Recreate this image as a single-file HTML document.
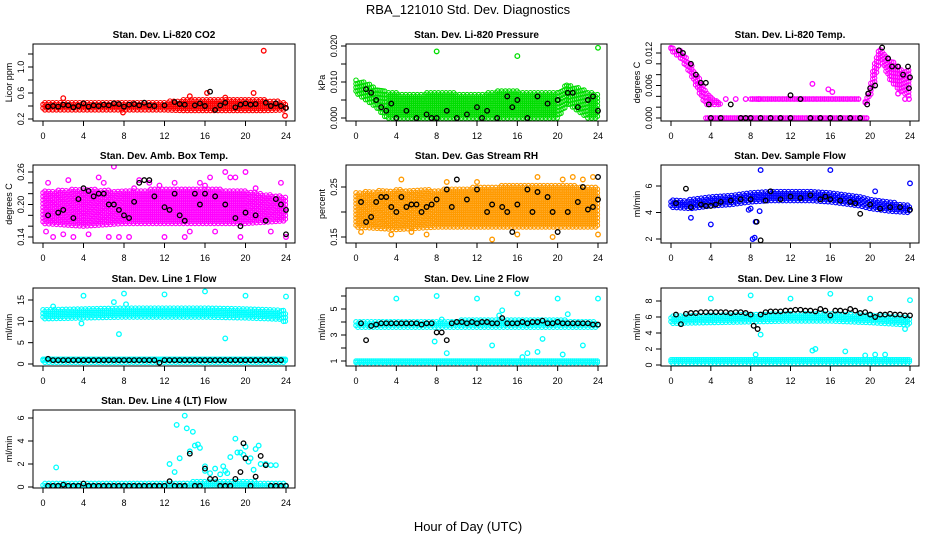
<!DOCTYPE html>
<html><head><meta charset="utf-8"><style>
html,body{margin:0;padding:0;background:#fff}
svg{display:block}
text{font-family:"Liberation Sans",sans-serif}
</style></head><body>
<svg id="chart" width="936" height="540" xmlns="http://www.w3.org/2000/svg">
<text x="468" y="14" text-anchor="middle" font-size="13">RBA_121010  Std. Dev. Diagnostics</text>
<text x="468" y="531" text-anchor="middle" font-size="13">Hour of Day (UTC)</text>
</svg>
<script>
const xTicks=[0,4,8,12,16,20,24];
// Panel 1 CO2
const co2BandHours=[0,4,8,12,14,16,18,20,22,24];
const co2BandLo=[0.34,0.34,0.34,0.34,0.33,0.33,0.33,0.33,0.33,0.34];
const co2BandHi=[0.47,0.47,0.47,0.47,0.50,0.52,0.50,0.52,0.50,0.46];
const co2OutHours=[21.8,23.9,7.9,16.2,20.8,14.5,2,18];
const co2OutVals=[1.25,0.25,0.30,0.60,0.60,0.55,0.52,0.53];
const co2BlackHours=[0.5,1,1.5,2,2.5,3,3.5,4,4.5,5,5.5,6,6.5,7,7.5,8,8.5,9,9.5,10,10.5,11,12,13,13.5,14,15,15.5,16,16.5,17,17.5,18,19,19.5,20,20.5,21,22,22.5,23,23.5,24];
const co2BlackVals=[0.39,0.40,0.39,0.42,0.41,0.38,0.40,0.44,0.39,0.41,0.40,0.42,0.41,0.44,0.43,0.39,0.42,0.43,0.41,0.45,0.41,0.40,0.41,0.46,0.43,0.42,0.41,0.44,0.40,0.62,0.34,0.41,0.45,0.38,0.42,0.44,0.42,0.43,0.45,0.40,0.44,0.40,0.37];
// Panel 2 Pressure
const prBandHours=[0,1,2,3,4,6,8,10,12,14,16,18,20,21,22,23,24];
const prBandLo=[0.007,0.005,0.003,0.000,0.000,0.000,0.000,0.000,0.000,0.000,0.000,0.000,0.000,0.004,0.002,0.000,0.000];
const prBandHi=[0.0105,0.0100,0.0085,0.0075,0.0070,0.0065,0.0075,0.0070,0.0065,0.0075,0.0075,0.0070,0.0075,0.0095,0.0085,0.0075,0.0065];
const prOutHours=[8,16,24];
const prOutVals=[0.0185,0.0172,0.0195];
const prBlackHours=[1,1.5,2,2.5,3,3.5,4,5,6,7,7.5,8,9,10,11,12,12.5,13,14,15,15.5,16,17,18,19,20,21,21.5,22,23,23.5,24];
const prBlackVals=[0.008,0.007,0.005,0.003,0.002,0.004,0.000,0.002,0.000,0.001,0.000,0.000,0.002,0.000,0.001,0.003,0.000,0.002,0.000,0.006,0.003,0.005,0.000,0.006,0.004,0.005,0.007,0.007,0.003,0.005,0.006,0.002];
// Panel 3 Li-820 Temp
const tpBandHours=[0,1,2,3,3.5,4,5];
const tpBandLo=[0.0125,0.0110,0.0080,0.0040,0.0025,0.0025,0.0025];
const tpBandHi=[0.0130,0.0125,0.0100,0.0070,0.0050,0.0040,0.0025];
const tpBand2Hours=[19.5,20,20.5,21,22,23,24];
const tpBand2Lo=[0.0025,0.004,0.007,0.011,0.007,0.005,0.004];
const tpBand2Hi=[0.0030,0.006,0.011,0.013,0.011,0.009,0.009];
const tpLineHours=[8,19];
const tpLineVals=[0.0035,0.0035];
const tpZeroHours=[3.5,19.8];
const tpZeroVals=[0,0];
const tpOutHours=[5.5,6.5,7.5,8.8,14.2,15.8,16.2,23.5,23.9,22.8];
const tpOutVals=[0.0035,0.0035,0.0035,0.0035,0.0063,0.0053,0.0048,0.0035,0.0035,0.0045];
const tpBlackHours=[0.8,1.2,2,2.5,3,3.5,3.8,4,5,6,7,7.5,8,9,10,11,12,12,13,14,15,16,17,18,19,19.7,19.8,20,20.5,21.2,21.8,22.2,22.8,23.3,23.8,23.9,24];
const tpBlackVals=[0.0125,0.012,0.010,0.008,0.0065,0.0065,0.0025,0,0,0.0025,0,0,0,0,0,0,0.0042,0,0.0035,0,0,0,0,0,0,0.0025,0.0045,0.0055,0.006,0.013,0.011,0.0095,0.0095,0.008,0.0095,0.0055,0.0075];
// Panel 4 Amb Box Temp
const abBandHours=[0,4,8,12,16,20,24];
const abBandLo=[0.165,0.16,0.165,0.165,0.165,0.165,0.17];
const abBandHi=[0.225,0.23,0.225,0.23,0.23,0.225,0.215];
const abOutHours=[0.3,0.5,1,2.5,3,4.5,5.5,6,7,7.5,8.5,9,10.5,11.5,13,14,15.5,16.5,17,18,18.5,19,21,22.5,23.5,24,6.5,9.5,12,16,20,2,14.5,19.5];
const abOutVals=[0.15,0.24,0.14,0.245,0.14,0.145,0.25,0.24,0.27,0.14,0.14,0.23,0.24,0.235,0.24,0.14,0.24,0.25,0.15,0.26,0.25,0.25,0.23,0.15,0.24,0.14,0.14,0.245,0.14,0.235,0.26,0.145,0.15,0.14];
const abBlackHours=[0.5,1.5,2,3,3.5,4,4.5,5,5.5,6,6.5,7,7.5,8,8.5,9,9.5,10,10.5,11,12,12.5,13,13.5,14,15,15.5,16,17,18,19,19.5,20,21,22,23,23.5,24,24];
const abBlackVals=[0.18,0.185,0.19,0.175,0.21,0.23,0.225,0.215,0.22,0.22,0.2,0.2,0.19,0.18,0.175,0.205,0.24,0.245,0.245,0.215,0.195,0.19,0.22,0.18,0.17,0.22,0.2,0.22,0.215,0.2,0.175,0.16,0.185,0.18,0.17,0.21,0.2,0.19,0.145];
// Panel 5 Gas Stream RH
const rhBandHours=[0,4,8,12,16,20,24];
const rhBandLo=[0.17,0.165,0.17,0.17,0.17,0.17,0.17];
const rhBandHi=[0.24,0.245,0.245,0.25,0.255,0.255,0.25];
const rhOutHours=[0.5,3.5,5.5,7,13.5,16,18,19.5,20.5,21.5,22.5,23.5,24,4.5,9,12];
const rhOutVals=[0.16,0.155,0.16,0.155,0.145,0.155,0.27,0.15,0.265,0.27,0.265,0.27,0.155,0.265,0.26,0.26];
const rhBlackHours=[0.5,1,1.5,2,2.5,3,3.5,4,4.5,5,5.5,6,6.5,7,7.5,8,9,9.5,10,11,12,13,13.5,14.5,15,15.5,16,17,17.5,18,19,19.5,20,21,22,22.5,23,23.5,24,24];
const rhBlackVals=[0.22,0.18,0.19,0.22,0.23,0.23,0.21,0.2,0.23,0.21,0.215,0.215,0.2,0.21,0.215,0.225,0.245,0.21,0.265,0.225,0.245,0.2,0.215,0.21,0.2,0.16,0.215,0.245,0.2,0.24,0.23,0.2,0.16,0.2,0.22,0.25,0.205,0.21,0.225,0.27];
// Panel 6 Sample Flow
const sfBandHours=[0,2,4,6,8,10,12,14,16,18,19,20,22,24];
const sfBandLo=[4.4,4.3,4.5,4.6,4.8,4.9,4.9,4.9,4.8,4.6,4.5,4.3,4.1,4.0];
const sfBandHi=[5.0,5.0,5.2,5.4,5.5,5.6,5.6,5.6,5.6,5.4,5.3,5.0,4.8,4.6];
const sfOutHours=[9,16,24,8.2,8.4,8.5,2,4,8,7.8,20.5,8.9];
const sfOutVals=[7.2,7.2,6.2,2.0,2.1,3.3,3.6,3.1,4.3,4.2,5.6,4.1];
const sfBlackHours=[0.5,1.5,2,3,3.5,4,4.5,5,6,7,8,8.6,9,9.5,10,11,12,13,14,15,15.5,16,17,18,18.5,19,20,21,22,23,24];
const sfBlackVals=[4.7,5.8,4.4,4.6,4.5,4.5,4.6,4.8,4.9,5.0,5.0,3.3,1.9,4.9,5.6,5.0,5.2,5.1,5.3,5.0,5.2,5.0,4.9,4.8,4.7,3.9,4.6,4.3,4.4,4.4,4.2];
// Row 3 Line 1 flow
const l1BandHours=[0,4,8,12,16,20,23.5,24];
const l1BandLo=[10.6,10.8,11.0,11.0,11.0,10.8,10.5,9.5];
const l1BandHi=[12.8,13.0,13.3,13.4,13.5,13.0,12.8,12.5];
const l1LowHours=[0,24];
const l1LowLo=[0.4,0.4];
const l1LowHi=[1.1,1.1];
const l1OutHours=[4,8,12,16,20,24,7.5,18,7,1,3.8,8.2];
const l1OutVals=[16,16.5,16.3,17,16,15.8,7,6,14.5,13.5,9.5,14];
const l1BlackHours=[0.5,1,1.5,2,2.5,3,3.5,4,4.5,5,5.5,6,6.5,7,7.5,8,8.5,9,9.5,10,10.5,11,11.5,12,12.5,13,13.5,14,14.5,15,15.5,16,16.5,17,17.5,18,18.5,19,19.5,20,20.5,21,21.5,22,22.5,23,23.5];
const l1BlackVals=[1.2,0.9,0.9,0.9,0.9,0.9,0.9,0.9,0.9,0.9,0.9,0.9,0.9,0.9,0.9,0.9,0.9,0.9,0.9,0.9,0.9,0.9,0.3,0.9,0.9,0.9,0.9,0.9,0.9,0.9,0.9,0.9,0.9,0.9,0.9,0.9,0.9,0.9,0.9,0.9,0.9,0.9,0.9,0.9,0.9,0.9,0.9];
// Line 2 flow
const l2BandHours=[0,4,8,12,16,20,24];
const l2BandLo=[3.6,3.6,3.6,3.6,3.6,3.6,3.6];
const l2BandHi=[4.1,4.1,4.1,4.2,4.2,4.2,4.0];
const l2LowHours=[0,24];
const l2LowLo=[0.75,0.75];
const l2LowHi=[1.0,1.0];
const l2OutHours=[4,8,12,16,20,24,14.5,13.5,9,17,18,18.5,22.5,7.8,8.5,20.5,21,14.2,16.5];
const l2OutVals=[5.8,6.0,5.8,6.2,5.8,5.8,4.9,2.2,1.6,1.6,1.7,2.7,2.2,2.5,4.2,1.5,4.6,4.5,1.3];
const l2BlackHours=[0.5,1,1.5,2,2.5,3,3.5,4,4.5,5,5.5,6,6.5,7,7.5,8,8.5,9,9.5,10,10.5,11,11.5,12,12.5,13,13.5,14,14.5,15,15.5,16,16.5,17,17.5,18,18.5,19,19.5,20,20.5,21,21.5,22,22.5,23,23.5,24];
const l2BlackVals=[3.9,2.6,3.7,3.8,3.9,3.9,3.9,3.9,3.9,3.9,3.9,3.9,3.8,3.9,3.9,3.2,3.2,2.6,3.9,4.0,4.0,3.9,4.0,3.9,4.0,4.0,3.9,3.9,4.3,3.9,3.9,3.9,4.0,3.9,4.0,4.0,4.1,3.9,3.9,4.0,3.9,3.9,3.9,3.9,3.9,3.9,3.8,3.8];
// Line 3 flow
const l3BandHours=[0,4,8,12,16,20,24];
const l3BandLo=[5.2,5.3,5.4,5.5,5.5,5.3,5.0];
const l3BandHi=[6.3,6.4,6.5,6.6,6.5,6.4,6.1];
const l3LowHours=[0,24];
const l3LowLo=[0.2,0.2];
const l3LowHi=[0.65,0.65];
const l3OutHours=[4,8,12,16,20,24,9,8.5,14.5,17.5,20.5,21.5,23.5,14.2,19.5];
const l3OutVals=[8.3,8.7,8.3,8.9,8.3,8.1,3.8,1.3,2.0,1.7,1.3,1.3,4.5,1.8,1.2];
const l3BlackHours=[0.5,1,1.5,2,2.5,3,3.5,4,4.5,5,5.5,6,6.5,7,7.5,8,8.3,8.7,9,9.5,10,10.5,11,11.5,12,12.5,13,13.5,14,14.5,15,15.5,16,16.5,17,17.5,18,18.5,19,19.5,20,20.5,21,21.5,22,22.5,23,23.5,24];
const l3BlackVals=[6.3,5.1,6.4,6.5,6.5,6.6,6.6,6.6,6.6,6.6,6.6,6.5,6.6,6.6,6.5,6.3,4.9,4.5,6.3,6.6,6.7,6.7,6.7,6.8,6.8,6.9,6.9,6.8,6.8,6.7,7.0,6.8,6.2,6.8,6.8,6.7,7.0,6.8,6.5,6.6,6.3,6.0,6.3,6.3,6.4,6.3,6.3,6.2,6.2];
// Line 4 flow
const l4BandHours=[0,12,16,20,24];
const l4BandLo=[0.0,0.0,0.0,0.0,0.0];
const l4BandHi=[0.35,0.4,0.5,0.5,0.4];
const l4OutHours=[1.3,12.5,13,13.5,14,14.5,15,15.5,16,16.5,17,17.5,18,18.5,19,19.5,19.8,20,20.5,21,21.5,22,22.5,23,13.2,14.2,15.3,17.8,19.2,20.3,21.3,14.8,16,18.2,20.8];
const l4OutVals=[1.7,2.0,1.3,2.5,6.2,3.1,3.6,3.4,1.4,1.2,1.6,1.1,1.4,2.6,4.2,3.0,2.8,3.5,2.5,3.3,2.0,2.0,1.9,1.9,5.4,5.1,3.7,1.8,3.0,2.2,3.6,4.8,1.8,1.2,1.5];
const l4BlackHours=[0.5,1,1.5,2,2.5,3,3.5,4,4.5,5,5.5,6,6.5,7,7.5,8,8.5,9,9.5,10,10.5,11,11.5,12,12.5,13,13.5,14,14.5,15,15.5,16,16.5,17,17.5,18,18.5,19,19.5,19.8,20,20.5,21,21.5,22,22.5,23,23.5,24];
const l4BlackVals=[0.1,0.1,0.1,0.2,0.1,0.1,0.1,0.3,0.1,0.1,0.1,0.1,0.1,0.1,0.1,0.1,0.1,0.1,0.1,0.1,0.1,0.1,0.1,0.1,0.5,0.1,0.1,0.1,2.9,0.1,0.1,1.6,0.7,0.7,0.1,0.1,0.1,0.7,1.3,3.8,2.5,0.1,0.9,2.7,1.9,0.1,0.1,0.1,0.1];

const svg=document.getElementById('chart');
const NS='http://www.w3.org/2000/svg';
function mk(tag,attrs,parent){const e=document.createElementNS(NS,tag);for(const k in attrs)e.setAttribute(k,attrs[k]);(parent||svg).appendChild(e);return e;}
function interp(hs,vs,h){for(let i=0;i<hs.length-1;i++){if(h>=hs[i]&&h<=hs[i+1]){const t=(h-hs[i])/((hs[i+1]-hs[i])||1);return vs[i]+t*(vs[i+1]-vs[i]);}}return vs[vs.length-1];}

function panel(p){
  const g=mk('g',{});
  
  
  const x0=p.box[0],x1=p.box[1],y0=p.box[2],y1=p.box[3];
  const xs=h=>x0+10+h*(x1-x0-19)/24;
  const ys=v=>p.yr[1]+(v-p.yr[0])*(p.yr[3]-p.yr[1])/(p.yr[2]-p.yr[0]);
  const clip='clip-'+p.name;
  const cp=mk('clipPath',{id:clip},g);mk('rect',{x:x0,y:y0,width:x1-x0,height:y1-y0},cp);
  const pg=mk('g',{'clip-path':'url(#'+clip+')'},g);
  
  
  (p.bands||[]).forEach(b=>{
    const hs=b[0],lo=b[1],hi=b[2];
    let k=0;
    for(let h=hs[0];h<=hs[hs.length-1]+1e-9;h+=0.19){
      k++;
      const a=ys(interp(hs,lo,h)),c=ys(interp(hs,hi,h));
      const top=Math.min(a,c),bot=Math.max(a,c);
      const off=(k%2)*1.8;
      for(let y=bot-off;y>=top-0.01;y-=3.6){mk('circle',{cx:xs(h),cy:y,r:2.2,fill:'none',stroke:p.color,'stroke-width':1.1},pg);}
      if(bot-top<3.7)mk('circle',{cx:xs(h),cy:top,r:2.2,fill:'none',stroke:p.color,'stroke-width':1.1},pg);
    }
  });
  (p.outs||[]).forEach(o=>{o[0].forEach((h,i)=>{mk('circle',{cx:xs(h),cy:ys(o[1][i]),r:2.3,fill:'none',stroke:p.color,'stroke-width':1.3},pg);});});
  p.black[0].forEach((h,i)=>{const c=mk('circle',{cx:xs(h),cy:ys(p.black[1][i]),r:2.3,fill:'none',stroke:'#000','stroke-width':1.3},pg);});
  const fr=mk('rect',{x:x0,y:y0,width:x1-x0,height:y1-y0,fill:'none',stroke:'#000','stroke-width':1},g);
  
  const t=mk('text',{x:(x0+x1)/2,y:y0-6,'text-anchor':'middle','font-size':10,'font-weight':'bold'},g);t.textContent=p.title;
  
  xTicks.forEach(v=>{const x=xs(v);mk('line',{x1:x,x2:x,y1:y1,y2:y1+5,stroke:'#000'},g);const tt=mk('text',{x:x,y:y1+18,'text-anchor':'middle','font-size':9},g);tt.textContent=v;});
  p.ticks.forEach((v,i)=>{const y=ys(v);mk('line',{x1:x0,x2:x0-5,y1:y,y2:y,stroke:'#000'},g);if(p.labels[i]){const tt=mk('text',{x:x0-9,y:y,'text-anchor':'middle','font-size':9,transform:'rotate(-90 '+(x0-9)+' '+y+')'},g);tt.textContent=p.labels[i];}});
  const yl=mk('text',{x:x0-21,y:(y0+y1)/2,'text-anchor':'middle','font-size':9,transform:'rotate(-90 '+(x0-21)+' '+((y0+y1)/2)+')'},g);yl.textContent=p.ylab;
  
}
const C1=[33,295],C2=[346,607],C3=[661,919];
const R1=[44,121],R2=[165,243],R3=[288,366],R4=[410,488];
panel({name:'co2-panel',title:'Stan. Dev. Li-820 CO2',ylab:'Licor ppm',color:'#ff0000',box:[...C1,...R1],yr:[0.2,119,1.0,67],ticks:[0.2,0.4,0.6,0.8,1.0,1.2],labels:['0.2','','0.6','','1.0',''],bands:[[co2BandHours,co2BandLo,co2BandHi]],outs:[[co2OutHours,co2OutVals]],black:[co2BlackHours,co2BlackVals]});
panel({name:'pressure-panel',title:'Stan. Dev. Li-820 Pressure',ylab:'kPa',color:'#00dd00',box:[...C2,...R1],yr:[0,118,0.02,46],ticks:[0,0.005,0.01,0.015,0.02],labels:['0.000','','0.010','','0.020'],bands:[[prBandHours,prBandLo,prBandHi]],outs:[[prOutHours,prOutVals]],black:[prBlackHours,prBlackVals]});
panel({name:'temp-panel',title:'Stan. Dev. Li-820 Temp.',ylab:'degrees C',color:'#ff00ff',box:[...C3,...R1],yr:[0,118,0.012,53],ticks:[0,0.002,0.004,0.006,0.008,0.01,0.012],labels:['0.000','','','0.006','','','0.012'],bands:[[tpBandHours,tpBandLo,tpBandHi],[tpBand2Hours,tpBand2Lo,tpBand2Hi],[tpLineHours,tpLineVals,tpLineVals],[tpZeroHours,tpZeroVals,tpZeroVals]],outs:[[tpOutHours,tpOutVals]],black:[tpBlackHours,tpBlackVals]});
panel({name:'amb-box-panel',title:'Stan. Dev. Amb. Box Temp.',ylab:'degrees C',color:'#ff00ff',box:[...C1,...R2],yr:[0.14,237,0.26,172],ticks:[0.14,0.16,0.18,0.2,0.22,0.24,0.26],labels:['0.14','','','0.20','','','0.26'],bands:[[abBandHours,abBandLo,abBandHi]],outs:[[abOutHours,abOutVals]],black:[abBlackHours,abBlackVals]});
panel({name:'rh-panel',title:'Stan. Dev. Gas Stream RH',ylab:'percent',color:'#ff9a00',box:[...C2,...R2],yr:[0.15,237,0.25,187],ticks:[0.15,0.2,0.25],labels:['0.15','','0.25'],bands:[[rhBandHours,rhBandLo,rhBandHi]],outs:[[rhOutHours,rhOutVals]],black:[rhBlackHours,rhBlackVals]});
panel({name:'sample-flow-panel',title:'Stan. Dev. Sample Flow',ylab:'ml/min',color:'#0000ff',box:[...C3,...R2],yr:[2,239,6,186],ticks:[2,4,6],labels:['2','4','6'],bands:[[sfBandHours,sfBandLo,sfBandHi]],outs:[[sfOutHours,sfOutVals]],black:[sfBlackHours,sfBlackVals]});
panel({name:'line1-panel',title:'Stan. Dev. Line 1 Flow',ylab:'ml/min',color:'#00ffff',box:[...C1,...R3],yr:[0,364,15,300],ticks:[0,5,10,15],labels:['0','5','10','15'],bands:[[l1BandHours,l1BandLo,l1BandHi],[l1LowHours,l1LowLo,l1LowHi]],outs:[[l1OutHours,l1OutVals]],black:[l1BlackHours,l1BlackVals]});
panel({name:'line2-panel',title:'Stan. Dev. Line 2 Flow',ylab:'ml/min',color:'#00ffff',box:[...C2,...R3],yr:[1,361,5,309],ticks:[1,2,3,4,5,6],labels:['1','','3','','5',''],bands:[[l2BandHours,l2BandLo,l2BandHi],[l2LowHours,l2LowLo,l2LowHi]],outs:[[l2OutHours,l2OutVals]],black:[l2BlackHours,l2BlackVals]});
panel({name:'line3-panel',title:'Stan. Dev. Line 3 Flow',ylab:'ml/min',color:'#00ffff',box:[...C3,...R3],yr:[0,365,8,301],ticks:[0,2,4,6,8],labels:['0','2','4','6','8'],bands:[[l3BandHours,l3BandLo,l3BandHi],[l3LowHours,l3LowLo,l3LowHi]],outs:[[l3OutHours,l3OutVals]],black:[l3BlackHours,l3BlackVals]});
panel({name:'line4-panel',title:'Stan. Dev. Line 4 (LT) Flow',ylab:'ml/min',color:'#00ffff',box:[...C1,...R4],yr:[0,487,6,418],ticks:[0,2,4,6],labels:['0','2','4','6'],bands:[[l4BandHours,l4BandLo,l4BandHi]],outs:[[l4OutHours,l4OutVals]],black:[l4BlackHours,l4BlackVals]});
</script>
</body></html>
